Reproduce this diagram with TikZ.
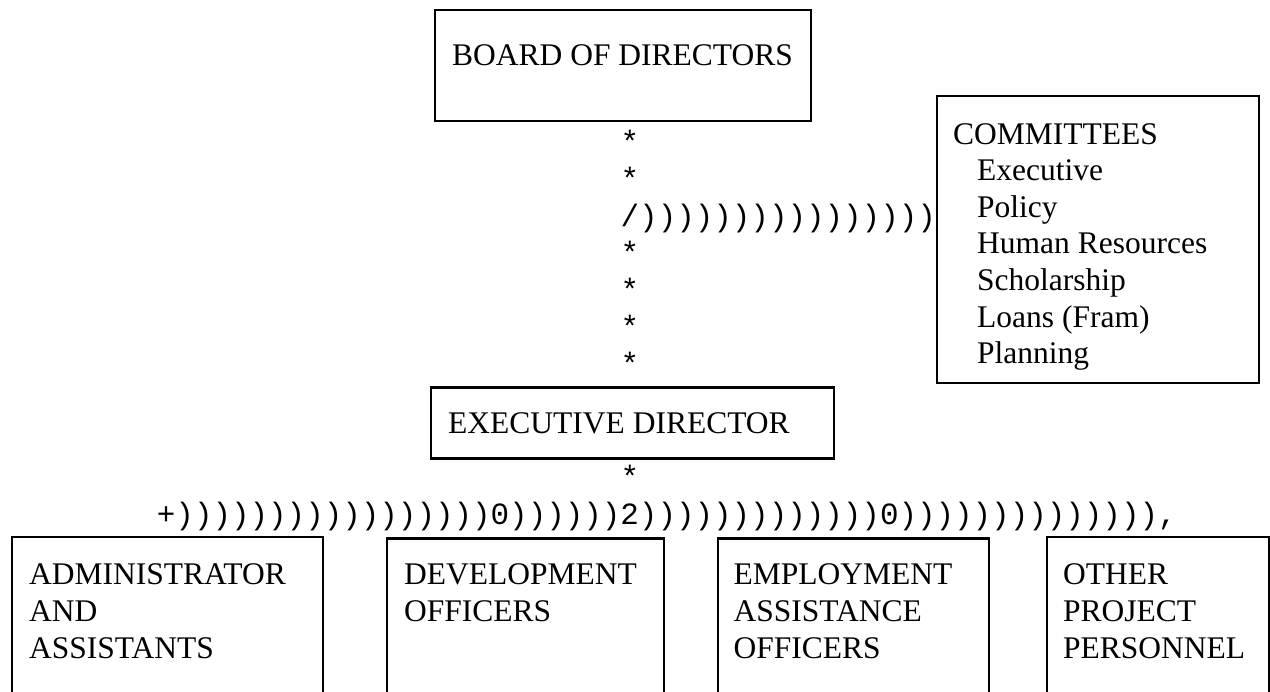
\documentclass[tikz,border=0pt]{standalone}
\usepackage{fontspec}
\setmainfont{Liberation Serif}
\setmonofont{Liberation Mono}
\newcommand\lblfont{\fontsize{31.5}{37.3}\selectfont}
\newcommand\cmtfont{\fontsize{31.5}{36.6}\selectfont}
\newcommand\asciifont{\ttfamily\fontsize{30.9}{37}\selectfont}
\newcommand\firstline{\rule{0pt}{26pt}}
\begin{document}
\begin{tikzpicture}[x=1pt,y=-1pt,
  orgbox/.style={draw, line width=2.4pt, inner sep=0pt, anchor=north west},
  lbl/.style={font=\lblfont, align=left, inner sep=0pt, anchor=north west},
  ascii/.style={font=\asciifont, inner sep=0pt, anchor=base west}]
\useasboundingbox (0,0) rectangle (1270,692);
\clip (0,0) rectangle (1270,692);

% boxes
\node[orgbox, minimum width=376pt, minimum height=111pt] (board) at (434,9) {};
\node[orgbox, minimum width=322pt, minimum height=287pt] (cmt) at (936,95) {};
\node[orgbox, minimum width=403pt, minimum height=71pt] (exec) at (430,386.5) {};
\node[orgbox, minimum width=311pt, minimum height=220pt] (adm) at (11,536) {};
\node[orgbox, minimum width=277pt, minimum height=220pt] (dev) at (386,537.5) {};
\node[orgbox, minimum width=271pt, minimum height=220pt] (emp) at (716.5,537.5) {};
\node[orgbox, minimum width=222pt, minimum height=220pt] (oth) at (1045.5,536) {};

% box texts (first baseline = y + 26)
\node[lbl] (boardt) at (452,39) {\firstline BOARD OF DIRECTORS};
\node[lbl, font=\cmtfont] (cmtt) at (953,118) {\firstline COMMITTEES\\
  \hspace*{24pt}Executive\\
  \hspace*{24pt}Policy\\
  \hspace*{24pt}Human Resources\\
  \hspace*{24pt}Scholarship\\
  \hspace*{24pt}Loans (Fram)\\
  \hspace*{24pt}Planning};
\node[lbl] (exect) at (448,407) {\firstline EXECUTIVE DIRECTOR};
\node[lbl] (admt) at (29,558) {\firstline ADMINISTRATOR\\AND\\ASSISTANTS};
\node[lbl] (devt) at (404,558) {\firstline DEVELOPMENT\\OFFICERS};
\node[lbl] (empt) at (733.5,558) {\firstline EMPLOYMENT\\ASSISTANCE\\OFFICERS};
\node[lbl] (otht) at (1063,558) {\firstline OTHER\\PROJECT\\PERSONNEL};

% typed connector characters
\node[ascii] (s1) at (620.5,153) {*};
\node[ascii] (s2) at (620.5,190) {*};
\node[ascii] (tee) at (620.5,227) {/))))))))))))))))};
\node[ascii] (s3) at (620.5,264) {*};
\node[ascii] (s4) at (620.5,301) {*};
\node[ascii] (s5) at (620.5,338) {*};
\node[ascii] (s6) at (620.5,375) {*};
\node[ascii] (s7) at (620.5,488) {*};
\node[ascii] (bar) at (156.75,525) {+)))))))))))))))))0))))))2)))))))))))))0)))))))))))))),};
\end{tikzpicture}
\end{document}
